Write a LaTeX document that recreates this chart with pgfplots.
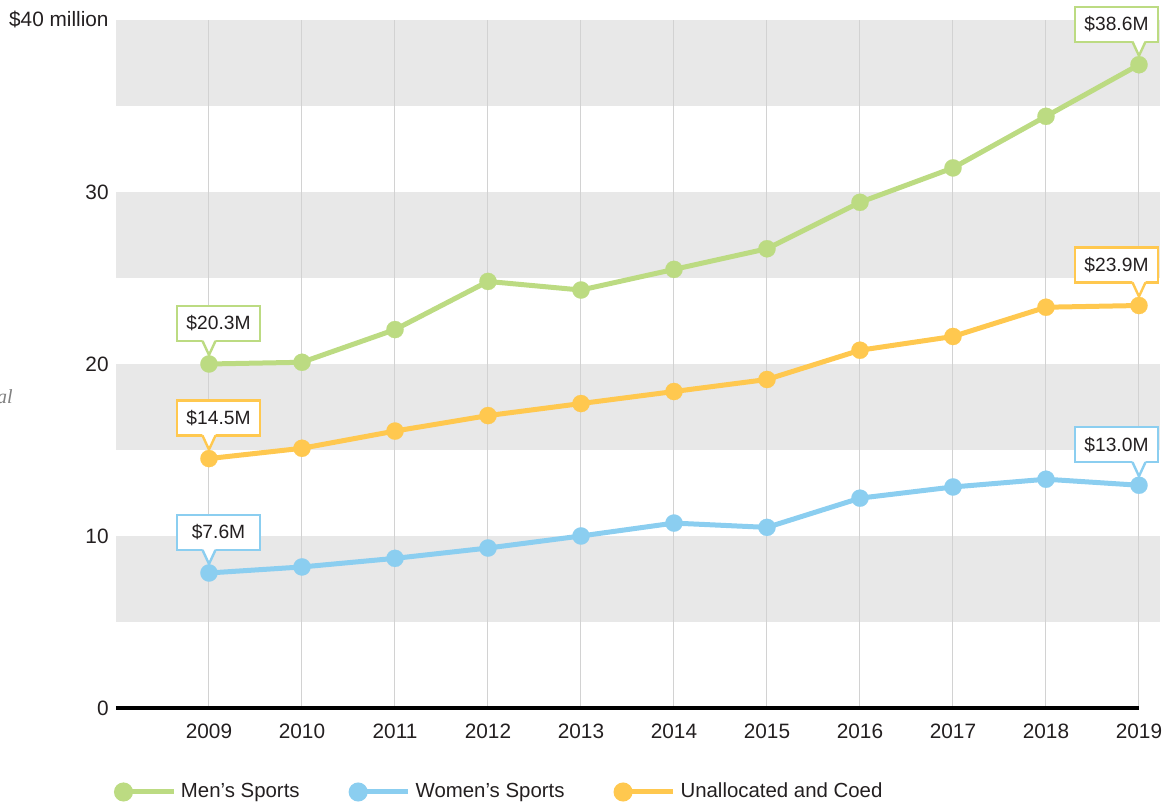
\documentclass[border=0pt]{standalone}
\usepackage{fontspec}
\setmainfont{Liberation Sans}
\newfontfamily\serifit{Liberation Serif}
\usepackage{pgfplots}
\pgfplotsset{compat=1.18}

\definecolor{mgreen}{HTML}{BCDB82}
\definecolor{wblue}{HTML}{8BCEF0}
\definecolor{uyellow}{HTML}{FFC84F}
\definecolor{band}{HTML}{E8E8E8}
\definecolor{gridc}{HTML}{D2D2D2}
\definecolor{txt}{HTML}{231F20}

\newcommand{\callout}[5]{%
  \node[draw=#3, line width=1.2pt, fill=white, text=txt, minimum width=41.5pt,
        minimum height=17.5pt, inner sep=0pt, outer sep=0pt, anchor=south,
        font=\fontsize{9.6}{11}\selectfont]
        at ([xshift=#5, yshift=11.5pt]axis cs:#1,#2) {#4};
  \fill[white] ([xshift=-3.4pt, yshift=12.3pt]axis cs:#1,#2) -- ([yshift=4.5pt]axis cs:#1,#2)
        -- ([xshift=3.4pt, yshift=12.3pt]axis cs:#1,#2) -- cycle;
  \draw[#3, line width=1.2pt] ([xshift=-3.25pt, yshift=11.5pt]axis cs:#1,#2)
        -- ([yshift=4.5pt]axis cs:#1,#2) -- ([xshift=3.25pt, yshift=11.5pt]axis cs:#1,#2);
}
\newcommand{\vgrid}[1]{\draw[gridc, line width=0.5pt] (axis cs:#1,0) -- (axis cs:#1,40);}

\begin{document}
\begin{tikzpicture}
\path (0,0) rectangle (586.5pt,403pt);
\begin{axis}[
  scale only axis, width=522pt, height=344pt,
  at={(58pt,49pt)}, anchor=south west,
  xmin=2008, xmax=2019.226, ymin=0, ymax=40,
  clip=false,
  axis line style={draw=none},
  xtick={2009,2010,2011,2012,2013,2014,2015,2016,2017,2018,2019},
  xticklabels={2009,2010,2011,2012,2013,2014,2015,2016,2017,2018,2019},
  ytick={0,10,20,30,40},
  yticklabels={0,10,20,30,\$40 million},
  major tick length=0pt,
  tick style={draw=none},
  xtick pos=bottom, ytick pos=left,
  xticklabel style={font=\fontsize{10.4}{12}\selectfont, text=txt, inner sep=0pt, anchor=north, yshift=-8pt},
  yticklabel style={font=\fontsize{10.4}{12}\selectfont, text=txt, inner sep=0pt, anchor=east, xshift=-3.5pt},
  legend columns=3,
  legend image code/.code={\draw[line width=2.5pt] (0pt,0pt) -- (25pt,0pt); \fill (0pt,0pt) circle (3.5pt);},
  legend style={at={(rel axis cs:0,0)}, anchor=west, xshift=-1pt, yshift=-42pt,
    draw=none, fill=none, inner sep=0pt, outer sep=0pt,
    font=\fontsize{10.2}{12}\selectfont, text=txt,
    nodes={inner sep=0pt},
    /tikz/every odd column/.append style={column sep=2.5pt},
    /tikz/every even column/.append style={column sep=24.5pt}},
]
\fill[band] (axis cs:2008,35) rectangle (axis cs:2019.226,40);
\fill[band] (axis cs:2008,25) rectangle (axis cs:2019.226,30);
\fill[band] (axis cs:2008,15) rectangle (axis cs:2019.226,20);
\fill[band] (axis cs:2008,5) rectangle (axis cs:2019.226,10);
\vgrid{2009}\vgrid{2010}\vgrid{2011}\vgrid{2012}\vgrid{2013}\vgrid{2014}
\vgrid{2015}\vgrid{2016}\vgrid{2017}\vgrid{2018}\vgrid{2019}
\draw[black, line width=2pt] (axis cs:2008,0) -- (axis cs:2019,0);

\addplot[color=mgreen, line width=2.5pt, mark=*, mark size=4.3pt, mark options={line width=0.1pt}]
coordinates {(2009,20.0) (2010,20.1) (2011,22.0) (2012,24.8) (2013,24.3) (2014,25.5) (2015,26.7) (2016,29.4) (2017,31.4) (2018,34.4) (2019,37.4)};
\addlegendentry{Men’s Sports}
\addplot[color=wblue, line width=2.5pt, mark=*, mark size=4.3pt, mark options={line width=0.1pt}]
coordinates {(2009,7.85) (2010,8.2) (2011,8.7) (2012,9.3) (2013,10.0) (2014,10.75) (2015,10.5) (2016,12.2) (2017,12.85) (2018,13.3) (2019,12.95)};
\addlegendentry{Women’s Sports}
\addplot[color=uyellow, line width=2.5pt, mark=*, mark size=4.3pt, mark options={line width=0.1pt}]
coordinates {(2009,14.5) (2010,15.1) (2011,16.1) (2012,17.0) (2013,17.7) (2014,18.4) (2015,19.1) (2016,20.8) (2017,21.6) (2018,23.3) (2019,23.4)};
\addlegendentry{Unallocated and Coed}

\callout{2009}{20.0}{mgreen}{\$20.3M}{4.75pt}
\callout{2009}{14.5}{uyellow}{\$14.5M}{4.75pt}
\callout{2009}{7.85}{wblue}{\$7.6M}{4.75pt}
\callout{2019}{37.4}{mgreen}{\$38.6M}{-11.25pt}
\callout{2019}{23.4}{uyellow}{\$23.9M}{-11.25pt}
\callout{2019}{12.95}{wblue}{\$13.0M}{-11.25pt}
\end{axis}
\node[overlay, anchor=east, inner sep=0pt, font=\serifit\itshape\fontsize{10}{12}\selectfont, text=gray] at (6.5pt,204.5pt) {al};
\end{tikzpicture}
\end{document}
